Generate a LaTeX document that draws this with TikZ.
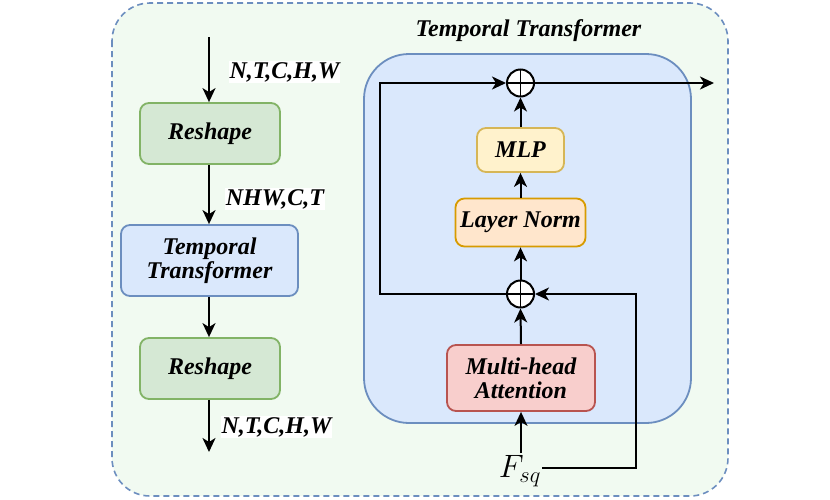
\documentclass[tikz,border=0pt]{standalone}
\usepackage{fontspec}
\setmainfont{Liberation Serif}
\usetikzlibrary{arrows.meta}
\definecolor{outerfill}{HTML}{F1FAF1}
\definecolor{blueline}{HTML}{6C8EBF}
\definecolor{bluefill}{HTML}{DAE8FC}
\definecolor{greenfill}{HTML}{D5E8D4}
\definecolor{greenline}{HTML}{82B366}
\definecolor{yelfill}{HTML}{FFF2CC}
\definecolor{yelline}{HTML}{D6B656}
\definecolor{orfill}{HTML}{FFE6CC}
\definecolor{orline}{HTML}{D79B00}
\definecolor{redfill}{HTML}{F8CECC}
\definecolor{redline}{HTML}{B85450}
\tikzset{
  txt/.style={font=\fontsize{24}{27}\selectfont\bfseries\itshape},
  box/.style={txt, draw, line width=1.8pt, rounded corners=9pt, align=center, inner sep=0pt},
  conn/.style={line width=2pt, -{Stealth[length=14pt,width=13pt,inset=4pt]}},
  lbl/.style={txt, fill=white, inner sep=1pt},
  plus/.style={circle, draw, line width=2pt, fill=white, minimum size=27pt, inner sep=0pt,
    path picture={\draw[line width=1.8pt] (path picture bounding box.north) -- (path picture bounding box.south)
      (path picture bounding box.west) -- (path picture bounding box.east);}}
}
\begin{document}
\begin{tikzpicture}[x=1pt,y=-1pt]
\useasboundingbox (0,0) rectangle (830,499);
% outer
\draw[blueline, fill=outerfill, dash pattern=on 6pt off 4pt, line width=1.6pt, rounded corners=38pt] (112,3) rectangle (728,496);
% left column
\coordinate (in) at (209,37);
\node[box, draw=greenline, fill=greenfill, minimum width=140pt, minimum height=61pt] (r1) at (210,133.5) {Reshape};
\node[box, draw=blueline, fill=bluefill, minimum width=177pt, minimum height=71pt] (tt) at (209.5,260.5) {Temporal\\[-3pt]Transformer};
\node[box, draw=greenline, fill=greenfill, minimum width=140pt, minimum height=61pt] (r2) at (210,368.5) {Reshape};
\coordinate (out) at (209,452);
\draw[conn] (in) -- (r1.north -| in);
\draw[conn] (r1.south -| in) -- (tt.north -| in);
\draw[conn] (tt.south -| in) -- (r2.north -| in);
\draw[conn] (r2.south -| in) -- (out);
\node[lbl] (l1) at (284.5,72) {N,T,C,H,W};
\node[lbl] (l2) at (275,199) {NHW,C,T};
\node[lbl] (l3) at (276.5,427) {N,T,C,H,W};
% right
\node[txt] (title) at (528.5,31) {Temporal Transformer};
\draw[blueline, fill=bluefill, line width=1.8pt, rounded corners=45pt] (364,54) rectangle (691,423);
\node[box, draw=yelline, fill=yelfill, minimum width=87pt, minimum height=44pt] (mlp) at (520.5,150) {MLP};
\node[box, draw=orline, fill=orfill, minimum width=130pt, minimum height=48pt] (ln) at (520.5,222.5) {Layer Norm};
\node[box, draw=redline, fill=redfill, minimum width=148pt, minimum height=66pt] (mha) at (521,378) {Multi-head\\[-3pt]Attention};
\node[plus] (p1) at (520.5,83) {};
\node[plus] (p2) at (520.5,294) {};
\node[font=\fontsize{24}{28}\selectfont, scale=1.3, inner sep=0pt] (f) at (520,471) {$F_{sq}$};
\coordinate (o) at (714,83);
\draw[conn] (mha.south |- 0,453) -- (mha.south);
\draw[conn] (mha.north) -- (p2.south);
\draw[conn] (p2.north) -- (ln.south);
\draw[conn] (ln.north) -- (mlp.south);
\draw[conn] (mlp.north) -- (p1.south);
\draw[conn] (p1.east) -- (o);
\draw[conn] (p2.west) -- (380,294) -- (380,83) -- (p1.west);
\draw[conn] ([xshift=1pt]f.east |- 0,468) -- (636,468) -- (636,294) -- (p2.east);
\end{tikzpicture}
\end{document}
